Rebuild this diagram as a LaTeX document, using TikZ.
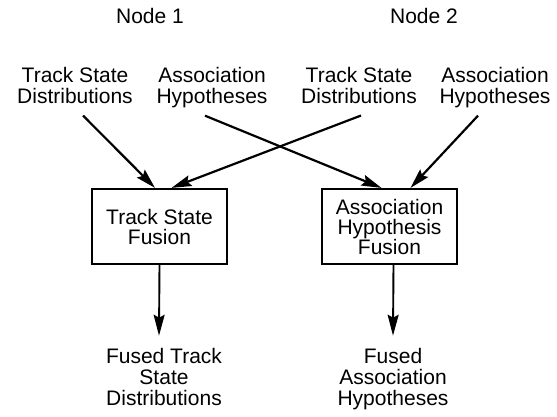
\documentclass[tikz,border=0pt]{standalone}
\usepackage{fontspec}
\setmainfont{Liberation Sans}
\usetikzlibrary{arrows.meta,calc}
\begin{document}
\begin{tikzpicture}[x=1pt,y=-1pt,
  lbl/.style={align=center,inner sep=0pt,anchor=north,font=\fontsize{21}{21}\selectfont},
  fbox/.style={draw,line width=2.2pt,minimum width=135pt,minimum height=75pt,inner sep=0pt,align=center,font=\fontsize{21}{20}\selectfont},
  arr/.style={line width=2.2pt,-{Stealth[length=20pt,width=11pt,inset=3pt]}},
  varr/.style={line width=1.9pt,-{Stealth[length=21pt,width=11pt,inset=3pt]}}]
\useasboundingbox (0,0) rectangle (557,416);
\node[lbl] (n1) at (150,8.5) {Node 1};
\node[lbl] (n2) at (424,8.5) {Node 2};
\node[lbl] (t1) at (75,66.7) {Track State\\Distributions};
\node[lbl] (a1) at (212,66.7) {Association\\Hypotheses};
\node[lbl] (t2) at (359,66.7) {Track State\\Distributions};
\node[lbl] (a2) at (495,66.7) {Association\\Hypotheses};
\node[fbox] (b1) at (159.5,226.5) {Track State\\Fusion};
\node[fbox] (b2) at (389.5,226.5) {Association\\Hypothesis\\Fusion};
\node[lbl] (o1) at (164,347.7) {Fused Track\\State\\Distributions};
\node[lbl] (o2) at (393,347.7) {Fused\\Association\\Hypotheses};
\draw[arr] ([xshift=8pt,yshift=-12pt]t1.south) -- ([xshift=-4.5pt]b1.north);
\draw[arr] ([xshift=2pt,yshift=-12pt]t2.south) -- ([xshift=12pt]b1.north);
\draw[arr] ([xshift=-7pt,yshift=-8pt]a1.south) -- ([xshift=-8pt]b2.north);
\draw[arr] ([xshift=-17pt,yshift=-8pt]a2.south) -- ([xshift=21pt]b2.north);
\draw[varr] (b1.south) -- ($(o1.north)+(-5,-12)$);
\draw[varr] ([xshift=4pt]b2.south) -- ($(o2.north)+(0,-12)$);
\end{tikzpicture}
\end{document}
